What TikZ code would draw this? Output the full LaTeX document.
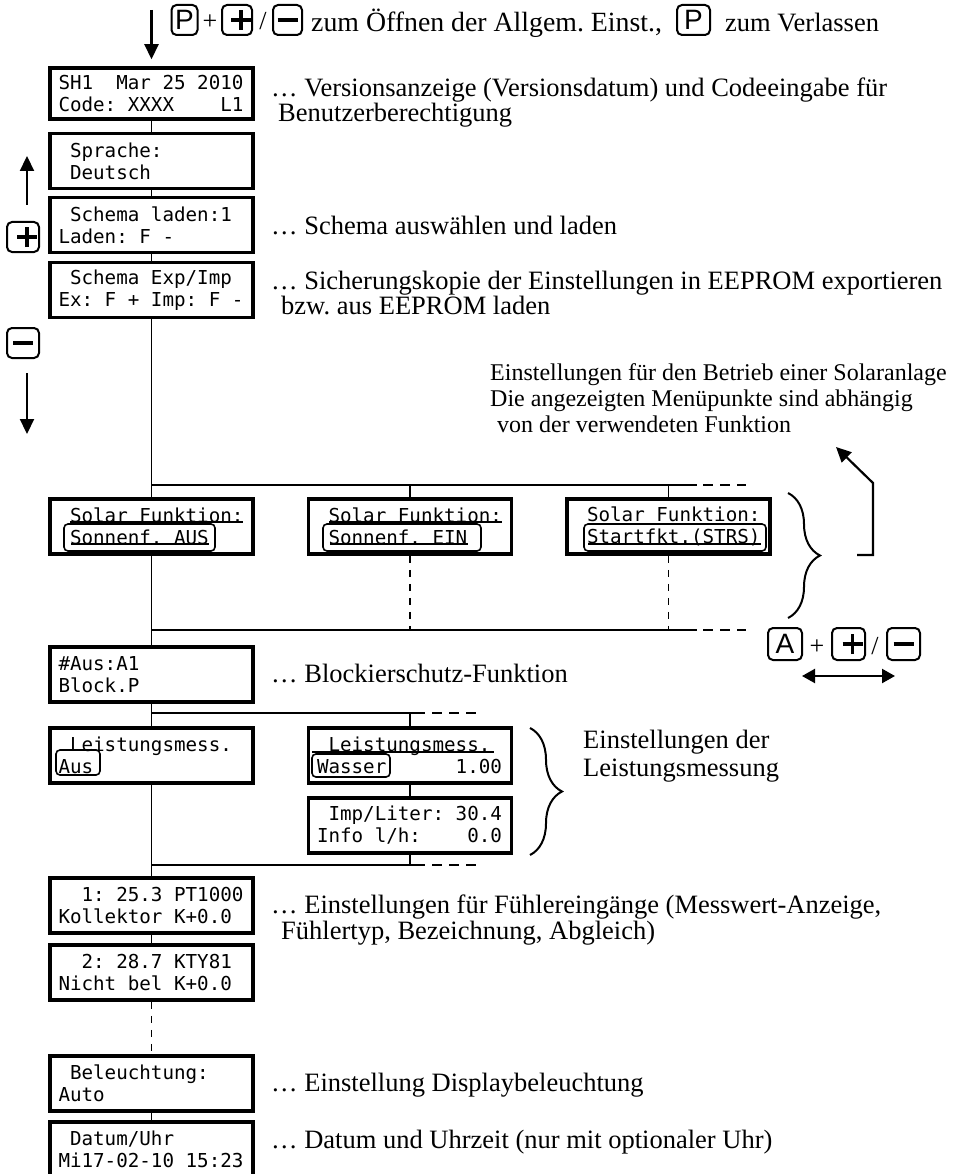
\documentclass[tikz,border=0pt]{standalone}
\usepackage{fontspec}
\setmainfont{Liberation Serif}
\newfontfamily\lcdfont{DejaVu Sans Mono}
\newfontfamily\keyfont{Liberation Sans}
\usetikzlibrary{arrows.meta,calc,decorations.pathreplacing}
\newcommand\sk{\phantom{0}}
\newcommand\plusglyph{\rlap{\rule[-1.75pt]{20pt}{3.5pt}}\hspace{8.25pt}\rule[-10pt]{3.5pt}{20pt}\hspace{8.25pt}}
\newcommand\minusglyph{\rule[-1.75pt]{20pt}{3.5pt}}
\frenchspacing
\begin{document}
\begin{tikzpicture}[x=1pt,y=-1pt,
  lcd/.style={draw, line width=3.5pt, minimum width=203pt, minimum height=55pt,
    inner xsep=0pt, inner ysep=0pt, text width=186pt, align=left,
    font=\fontsize{19.2}{22}\selectfont\lcdfont},
  conn/.style={line width=1.8pt},
  vdash/.style={conn, dash pattern=on 7pt off 7pt},
  hdash/.style={conn, dash pattern=on 10pt off 7pt},
  txt/.style={anchor=base west, inner sep=0pt, font=\fontsize{26.5}{26}\selectfont},
  ttxt/.style={anchor=base west, inner sep=0pt, font=\fontsize{27.8}{26}\selectfont},
  stxt/.style={anchor=base west, inner sep=0pt, font=\fontsize{24}{26}\selectfont},
  sym/.style={anchor=base, inner sep=0pt, font=\fontsize{26}{26}\selectfont},
  keybox/.style={draw, line width=2pt, rounded corners=5pt, inner sep=0pt,
    minimum height=30pt, font=\keyfont\fontsize{28}{28}\selectfont},
  rb/.style={draw, line width=1.6pt, rounded corners=4pt},
  ul/.style={line width=1.4pt},
  arr/.style={line width=2.2pt, -{Triangle[length=15pt,width=14pt]}},
  arrtwo/.style={line width=2.2pt, {Triangle[length=13pt,width=14pt]}-{Triangle[length=13pt,width=14pt]}},
  brc/.style={line width=2pt, decorate, decoration={brace, amplitude=32pt}}
]
\useasboundingbox (0,0) rectangle (955,1174);

% ---- top line
\coordinate (a0) at (151.5,10);
\node[keybox, minimum width=26pt] (kP1) at (184.5,20) {P};
\node[sym] (tplus1) at (210,30) {+};
\node[keybox, minimum width=30pt] (kPl1) at (237,20) {\plusglyph};
\node[sym] (tsl1) at (263,30) {/};
\node[keybox, minimum width=29pt] (kMi1) at (287.5,20) {\minusglyph};
\node[ttxt] (ttop1) at (311,32) {zum Öffnen der Allgem. Einst.,};
\node[keybox, minimum width=33pt] (kP2) at (693.5,20) {P};
\node[txt] (ttop2) at (725,32) {zum Verlassen};

% ---- display boxes, main column
\node[lcd, minimum height=51pt] (b1) at (151.5,93.5) {SH1\sk\sk Mar\sk 25\sk 2010\\Code:\sk XXXX\sk\sk\sk\sk L1};
\node[lcd] (b2) at (151.5,161) {\sk Sprache:\\\sk Deutsch};
\node[lcd] (b3) at (151.5,225) {\sk Schema\sk laden:1\\Laden:\sk F\sk -};
\node[lcd] (b4) at (151.5,290) {\sk Schema\sk Exp/Imp\\Ex:\sk F\sk +\sk Imp:\sk F\sk -};

\draw[arr, shorten >=7pt] (a0) -- (b1);
\draw[conn] (b1) -- (b2);
\draw[conn] (b2) -- (b3);
\draw[conn] (b3) -- (b4);

% ---- left +/- navigation
\coordinate (u1) at (27,205);
\coordinate (u2) at (27,156);
\draw[arr] (u1) -- (u2);
\node[keybox, minimum width=32pt] (kPlL) at (23,237) {\plusglyph};
\node[keybox, minimum width=32pt] (kMiL) at (23,343) {\minusglyph};
\coordinate (d1) at (27,373);
\coordinate (d2) at (27,434);
\draw[arr] (d1) -- (d2);

% ---- descriptions
\node[txt] (t1a) at (271,97) {… Versionsanzeige (Versionsdatum) und Codeeingabe für};
\node[txt] (t1b) at (278,122) {Benutzerberechtigung};
\node[txt] (t3) at (271,234) {… Schema auswählen und laden};
\node[txt] (t4a) at (271,289) {… Sicherungskopie der Einstellungen in EEPROM exportieren};
\node[txt] (t4b) at (281,314) {bzw. aus EEPROM laden};
\node[stxt] (ts1) at (490,380) {Einstellungen für den Betrieb einer Solaranlage};
\node[stxt] (ts2) at (490,406) {Die angezeigten Menüpunkte sind abhängig};
\node[stxt] (ts3) at (497,432) {von der verwendeten Funktion};

% ---- solar function row
\coordinate (j1) at (151.5,485);
\coordinate (jB) at (410,485);
\coordinate (jC) at (668.5,485);
\coordinate (jCs) at (697,485);
\coordinate (jCd1) at (703,485);
\coordinate (jCd2) at (746,485);
\node[lcd] (sA) at (151.5,526.5) {\sk Solar\sk Funktion:\\\sk Sonnenf.\sk AUS};
\node[lcd] (sB) at (410,526.5) {\sk Solar\sk Funktion:\\\sk Sonnenf.\sk EIN};
\node[lcd] (sC) at (668.5,526.5) {\sk Solar\sk Funktion:\\\sk Startfkt.(STRS)};
\draw[conn] (b4) -- (j1);
\draw[conn] (j1) -- (jC) -- (jCs);
\draw[hdash] (jCd1) -- (jCd2);
\draw[conn] (j1) -- (sA);
\draw[conn] (jB) -- (sB);
\draw[conn] (jC) -- (sC);
% underlines and selection frames
\draw[ul] (70,522) -- (243,522);
\draw[ul] (329,522) -- (502,522);
\draw[ul] (71,544) -- (209,544);
\draw[ul] (330,544) -- (468,544);
\draw[ul] (588,544) -- (761,544);
\draw[rb] (64,524) rectangle (215,551);
\draw[rb] (323,524) rectangle (481,551);
\draw[rb] (584,524) rectangle (766,551);

\coordinate (k1) at (151.5,630);
\coordinate (kB) at (410,630);
\coordinate (kC) at (668.5,630);
\coordinate (kCs) at (697,630);
\coordinate (kCd1) at (703,630);
\coordinate (kCd2) at (746,630);
\draw[vdash] (sB) -- (kB);
\draw[vdash] (sC) -- (kC);
\draw[conn] (k1) -- (kC) -- (kCs);
\draw[hdash] (kCd1) -- (kCd2);

% brace and arrow for solar variants
\coordinate (br1a) at (788,493);
\coordinate (br1b) at (788,618);
\draw[brc] (br1a) -- (br1b);
\coordinate (q1) at (857,555);
\coordinate (q2) at (873,555);
\coordinate (q3) at (873,483);
\coordinate (q4) at (836,447);
\draw[arr] (q1) -- (q2) -- (q3) -- (q4);
\node[keybox, minimum width=34pt, minimum height=32pt] (kA) at (785,644) {A};
\node[sym] (tplus2) at (817,654) {+};
\node[keybox, minimum width=33pt, minimum height=32pt] (kPlR) at (848.5,644) {\plusglyph};
\node[sym] (tsl2) at (875,654) {/};
\node[keybox, minimum width=33pt, minimum height=32pt] (kMiR) at (903.5,644) {\minusglyph};
\coordinate (r1) at (802,676);
\coordinate (r2) at (895,676);
\draw[arrtwo] (r1) -- (r2);

% ---- block protection
\node[lcd] (bAus) at (151.5,674.5) {\#Aus:A1\\Block.P};
\draw[conn] (sA) -- (bAus);
\node[txt] (tb) at (271,682) {… Blockierschutz-Funktion};

% ---- power measurement
\coordinate (m1) at (151.5,713);
\coordinate (mB) at (410,713);
\coordinate (mBs) at (425,713);
\coordinate (mBd1) at (432,713);
\coordinate (mBd2) at (478,713);
\node[lcd] (lL) at (151.5,755.5) {\sk Leistungsmess.\\Aus};
\node[lcd] (lR) at (410,755.5) {\sk Leistungsmess.\\Wasser\sk\sk\sk\sk\sk\sk 1.00};
\node[lcd] (lI) at (410,825.5) {\sk Imp/Liter:\sk 30.4\\Info\sk l/h:\sk\sk\sk\sk 0.0};
\draw[conn] (bAus) -- (lL);
\draw[conn] (m1) -- (mB) -- (mBs);
\draw[hdash] (mBd1) -- (mBd2);
\draw[conn] (mB) -- (lR);
\draw[conn] (lR) -- (lI);
\draw[ul] (312,752) -- (494,752);
\draw[rb] (312,754) rectangle (390,777);
\draw[rb] (56,750) rectangle (100,775);

\coordinate (n1) at (151.5,865);
\coordinate (nB) at (410,865);
\coordinate (nBs) at (425,865);
\coordinate (nBd1) at (432,865);
\coordinate (nBd2) at (478,865);
\draw[conn] (lI) -- (nB);
\draw[conn] (n1) -- (nB) -- (nBs);
\draw[hdash] (nBd1) -- (nBd2);

\coordinate (br2a) at (530,728);
\coordinate (br2b) at (530,855);
\draw[brc] (br2a) -- (br2b);
\node[txt] (tl1) at (583,748) {Einstellungen der};
\node[txt] (tl2) at (583,776) {Leistungsmessung};

% ---- sensors, lighting, clock
\node[lcd] (f1) at (151.5,905.5) {\sk\sk 1:\sk 25.3\sk PT1000\\Kollektor\sk K+0.0};
\node[lcd] (f2) at (151.5,972.5) {\sk\sk 2:\sk 28.7\sk KTY81\\Nicht\sk bel\sk K+0.0};
\node[lcd] (bel) at (151.5,1083.5) {\sk Beleuchtung:\\Auto};
\node[lcd] (dat) at (151.5,1149.5) {\sk Datum/Uhr\\Mi17-02-10\sk 15:23};
\draw[conn] (lL) -- (f1);
\draw[conn] (f1) -- (f2);
\draw[vdash] (f2) -- (bel);
\draw[conn] (bel) -- (dat);

\node[txt] (tf1) at (271,913) {… Einstellungen für Fühlereingänge (Messwert-Anzeige,};
\node[txt] (tf2) at (281,939) {Fühlertyp, Bezeichnung, Abgleich)};
\node[txt] (tbl) at (271,1091) {… Einstellung Displaybeleuchtung};
\node[txt] (td) at (271,1148) {… Datum und Uhrzeit (nur mit optionaler Uhr)};
\end{tikzpicture}
\end{document}
